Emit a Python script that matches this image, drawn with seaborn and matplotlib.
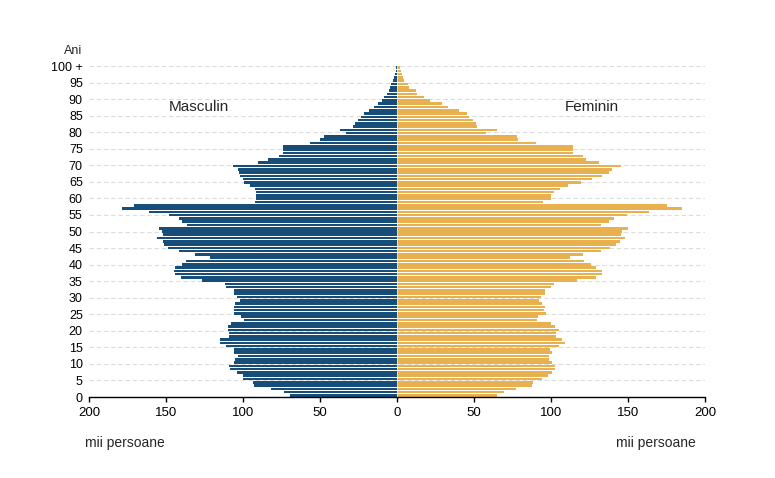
import pandas as pd
import seaborn as sns
import matplotlib.pyplot as plt

# population by single year of age, thousands of persons
ages = list(range(101))
male = [
    69.3, 73.6, 81.8, 93.1, 93.5, 100.3, 100.3, 103.9, 108.7, 108.9,      # 0-9
    105.6, 105.0, 103.5, 105.6, 105.6, 111.0, 114.8, 115.2, 109.3, 109.1,  # 10-19
    109.8, 109.8, 107.8, 99.6, 101.1, 105.6, 105.6, 105.6, 105.0, 101.7,   # 20-29
    103.9, 106.0, 106.0, 111.0, 111.9, 126.6, 140.1, 144.0, 144.6, 144.0,  # 30-39
    139.7, 136.9, 121.3, 131.0, 141.8, 148.7, 151.5, 151.9, 155.8, 152.2,  # 40-49
    152.6, 154.3, 136.4, 139.7, 141.4, 148.3, 160.9, 178.6, 170.6, 92.0,   # 50-59
    91.6, 91.6, 91.6, 92.0, 95.3, 99.6, 100.3, 101.7, 102.6, 103.5,        # 60-69
    106.5, 90.0, 84.0, 76.9, 74.1, 74.1, 74.1, 56.7, 49.8, 47.6,           # 70-79
    33.2, 37.0, 28.5, 27.0, 25.5, 23.5, 21.5, 18.0, 15.0, 12.5,            # 80-89
    10.0, 8.2, 6.8, 5.5, 4.5, 3.6, 2.8, 2.0, 1.3, 0.9, 0.5,                # 90-100+
]
female = [
    65.2, 69.5, 77.1, 87.9, 88.5, 93.9, 98.1, 100.6, 102.8, 102.4,        # 0-9
    100.4, 98.7, 98.7, 100.4, 99.4, 105.2, 108.9, 107.4, 103.5, 103.5,    # 10-19
    105.2, 102.6, 99.8, 91.1, 91.6, 96.6, 95.5, 95.9, 94.4, 92.2,         # 20-29
    93.7, 95.9, 96.1, 100.2, 102.0, 117.1, 129.4, 132.9, 133.3, 129.4,    # 30-39
    125.8, 121.4, 112.1, 120.8, 132.3, 138.3, 142.0, 144.6, 148.3, 145.7, # 40-49
    146.3, 149.8, 132.7, 137.7, 140.9, 149.6, 163.7, 184.9, 175.1, 95.0,  # 50-59
    99.8, 100.2, 102.0, 105.6, 111.3, 119.3, 126.9, 133.3, 137.7, 139.8,  # 60-69
    145.3, 131.2, 123.0, 120.8, 114.5, 114.5, 114.5, 90.0, 78.8, 78.2,    # 70-79
    58.0, 64.7, 52.2, 51.1, 49.6, 46.5, 45.7, 40.3, 33.1, 29.5,           # 80-89
    21.4, 17.5, 13.2, 12.1, 7.8, 7.2, 4.3, 3.6, 3.0, 2.4, 1.8,            # 90-100+
]
age_ticks = list(range(0, 101, 5))
age_tick_labels = [str(a) for a in age_ticks[:-1]] + ['100 +']
x_ticks = [-200, -150, -100, -50, 0, 50, 100, 150, 200]

BLUE = '#174e79'
ORANGE = '#e9b04f'

df = pd.DataFrame({'age': ages, 'male': male, 'female': female})
df['male_left'] = -df['male']

sns.set_theme(style='white')
plt.rcParams['font.family'] = ['Liberation Sans', 'DejaVu Sans']

fig = plt.figure(figsize=(7.75, 4.78), dpi=100)
ax = fig.add_axes([89 / 775, 1 - 397 / 478, 616 / 775, 331 / 478])

common = dict(y='age', orient='y', native_scale=True, width=0.78,
              linewidth=0, saturation=1, errorbar=None, ax=ax)
sns.barplot(data=df, x='male_left', color=BLUE, **common)
sns.barplot(data=df, x='female', color=ORANGE, **common)
ax.axvline(0, color='white', lw=0.6, alpha=0.6, zorder=3)

# 101 bars fill the axis; the age ticks are spread over the same span
ax.set_ylim(-0.5, 100.5)
ax.set_yticks([a * 1.01 - 0.5 for a in age_ticks])
ax.set_yticklabels(age_tick_labels)
ax.set_xlim(-200, 200)
ax.set_xticks(x_ticks)
ax.set_xticklabels([str(abs(v)) for v in x_ticks])
ax.set_xlabel('')
ax.set_ylabel('')

ax.set_axisbelow(True)
ax.yaxis.grid(True, color='#dcdcdc', lw=0.8, linestyle=(0, (4, 2.5)))
ax.xaxis.grid(False)
for side in ['top', 'left', 'right']:
    ax.spines[side].set_visible(False)
ax.spines['bottom'].set_color('black')
ax.spines['bottom'].set_linewidth(1.0)

ax.tick_params(axis='y', length=0, pad=4.5, labelsize=9, labelcolor='black')
ax.tick_params(axis='x', bottom=True, length=3.8, width=1.0, color='black',
               pad=3.5, labelsize=9.5, labelcolor='black')

fig.text(82 / 775, 1 - 51 / 478, 'Ani', ha='right', va='center', fontsize=9)
fig.text(199 / 775, 1 - 107 / 478, 'Masculin', ha='center', va='center', fontsize=11)
fig.text(592 / 775, 1 - 107 / 478, 'Feminin', ha='center', va='center', fontsize=11)
fig.text(85 / 775, 1 - 443 / 478, 'mii persoane', ha='left', va='center', fontsize=10)
fig.text(696 / 775, 1 - 443 / 478, 'mii persoane', ha='right', va='center', fontsize=10)

fig.savefig('out.png', dpi=100)
